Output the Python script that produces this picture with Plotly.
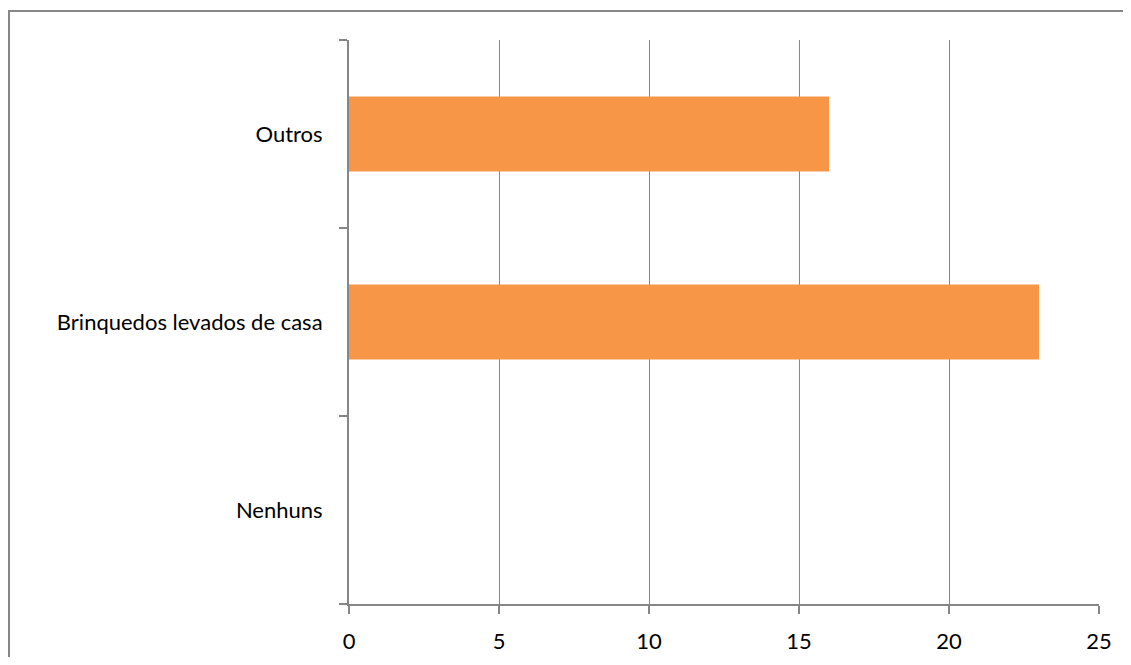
import plotly.graph_objects as go

categories = ["Nenhuns", "Brinquedos levados de casa", "Outros"]
values = [0, 23, 16]
x_ticks = [0, 5, 10, 15, 20, 25]

axis_grey = "#868686"
bar_colour = "#F79646"

# page body adds an 8px margin, so the figure is a bit smaller than the window
fig_w, fig_h = 1115, 649
left, right, top, bottom = 341, 1091, 32, 596

fig = go.Figure(go.Bar(
    x=values,
    y=categories,
    orientation="h",
    marker=dict(color=bar_colour, line=dict(width=0)),
    width=0.4,
))

fig.update_layout(
    width=fig_w, height=fig_h,
    margin=dict(l=left, r=fig_w - right, t=top, b=fig_h - bottom),
    plot_bgcolor="white",
    paper_bgcolor="white",
    showlegend=False,
    font=dict(family="Lato", size=22, color="black"),
    xaxis=dict(
        range=[0, 25],
        tickvals=x_ticks,
        showgrid=True, gridcolor=axis_grey, gridwidth=1,
        showline=True, linecolor=axis_grey, linewidth=2,
        ticks="outside", ticklen=8, tickcolor=axis_grey, tickwidth=2,
        zeroline=False, automargin=False,
        ticklabelstandoff=9,
    ),
    yaxis=dict(
        categoryorder="array", categoryarray=categories,
        range=[-0.5, 2.5],
        showgrid=False,
        showline=True, linecolor=axis_grey, linewidth=2,
        ticks="outside", tickson="boundaries", ticklen=8,
        tickcolor=axis_grey, tickwidth=2,
        zeroline=False, automargin=False,
        ticklabelstandoff=20,
    ),
)

# outer chart frame (right and bottom edges fall outside the view)
pw, ph = right - left, bottom - top
fig.add_shape(
    type="rect", xref="paper", yref="paper",
    x0=(1 - left) / pw, x1=(fig_w + 20 - left) / pw,
    y0=-0.3, y1=(bottom - 3) / ph,
    line=dict(color=axis_grey, width=2), layer="below",
)

fig.write_html("out.html")
